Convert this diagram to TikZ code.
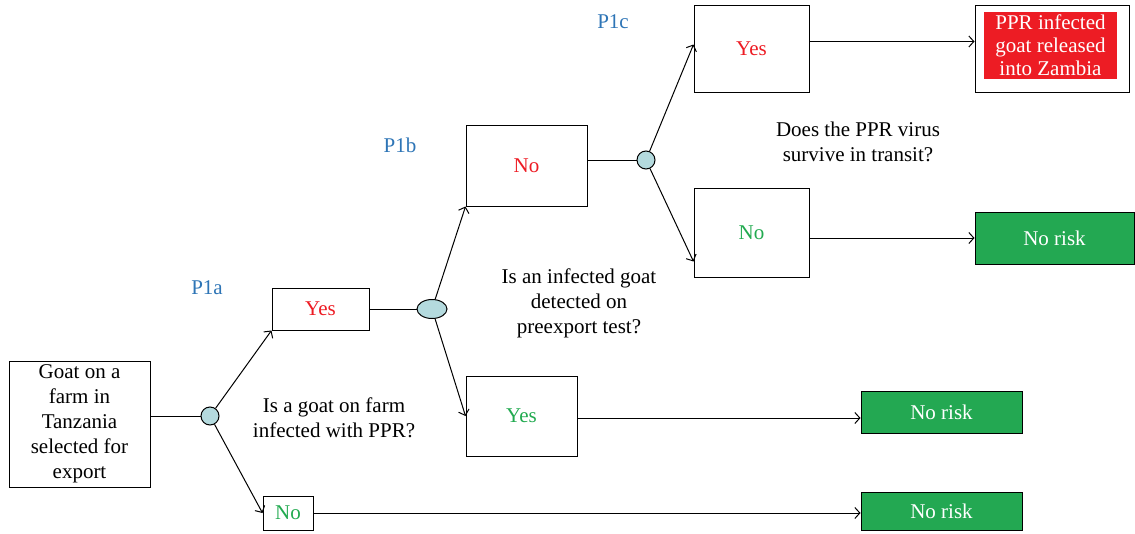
\documentclass[tikz,border=0pt]{standalone}
\usepackage{fontspec}
\setmainfont{Liberation Serif}
\usepackage{tikz}
\usetikzlibrary{arrows,arrows.meta,positioning,shapes.geometric}
\definecolor{riskred}{RGB}{237,28,36}
\definecolor{riskgreen}{RGB}{35,168,82}
\definecolor{notegreen}{RGB}{34,170,80}
\definecolor{pblue}{RGB}{46,117,182}
\definecolor{chancefill}{RGB}{180,218,222}
\tikzstyle{outcome}=[rectangle,draw=black,line width=1pt,inner sep=0pt,align=center]
\tikzstyle{norisk}=[outcome,fill=riskgreen,text=white,minimum width=161pt,minimum height=42pt]
\tikzstyle{chance}=[circle,draw=black,line width=1pt,fill=chancefill,minimum size=18pt,inner sep=0pt]
\tikzstyle{plabel}=[text=pblue]
\tikzstyle{question}=[align=center]

\begin{document}
\begin{tikzpicture}[x=1pt,y=-1pt,->,>={Straight Barb[length=5pt,width=11pt]},line width=1pt,
                    font=\fontsize{21}{25}\selectfont]
  \useasboundingbox (0,0) rectangle (1135,533);

  % root and first chance node
  \node[outcome,minimum width=141pt,minimum height=126pt] (goat) at (79.5,424)
       {Goat on a\\farm in\\Tanzania\\selected for\\export};
  \node[chance] (c1) at (210,416) {};
  \node[outcome,text=riskred,minimum width=97pt,minimum height=42pt] (yes1) at (320.5,309) {Yes};
  \node[outcome,text=notegreen,minimum width=50pt,minimum height=34pt] (no1) at (288,513) {No};
  \node[norisk,minimum height=38pt] (nr1) at (941.5,511) {No risk};

  % second chance node
  \node[ellipse,draw=black,line width=1pt,fill=chancefill,minimum width=30pt,minimum height=19pt,inner sep=0pt] (e2) at (432,309) {};
  \node[outcome,text=riskred,minimum width=121pt,minimum height=81pt] (no2) at (526.5,165.5) {No};
  \node[outcome,text=notegreen,minimum width=111pt,minimum height=80pt] (yes2) at (521.5,416) {Yes};
  \node[norisk] (nr2) at (941.5,412) {No risk};

  % third chance node
  \node[chance] (c3) at (646,160) {};
  \node[outcome,text=riskred,minimum width=115pt,minimum height=87pt] (yes3) at (751.5,48.5) {Yes};
  \node[outcome,text=notegreen,minimum width=115pt,minimum height=89pt] (no3) at (751.5,232.5) {No};
  \node[outcome,minimum width=154pt,minimum height=87pt] (zambia) at (1052,48.5) {};
  \node[rectangle,fill=riskred,text=white,align=center,inner sep=0pt,
        minimum width=133pt,minimum height=67pt,font=\fontsize{21}{23}\selectfont] (zambiatext) at (1050.5,45.5)
       {PPR infected\\goat released\\into Zambia};
  \node[norisk,minimum width=159pt,minimum height=52pt] (nr3) at (1054.5,238) {No risk};

  % labels
  \node[plabel] (p1a) at (207,288) {P1a};
  \node[plabel] (p1b) at (400,145) {P1b};
  \node[plabel] (p1c) at (613,22) {P1c};
  \node[question] (q1) at (334,418) {Is a goat on farm\\infected with PPR?};
  \node[question] (q2) at (579,303) {Is an infected goat\\detected on\\preexport test?};
  \node[question] (q3) at (858,142) {Does the PPR virus\\survive in transit?};

  % connectors
  \draw[-] (goat.east |- c1) -- (c1);
  \draw (c1) -- (yes1.south west);
  \draw (c1) -- (no1.west);
  \draw (no1.east) -- (no1.east -| nr1.west);
  \draw[-] (yes1.east) -- (e2);
  \draw (e2) -- (no2.south west);
  \draw (e2) -- (yes2.west);
  \draw ([yshift=-2pt]yes2.east) -- ([yshift=-2pt]yes2.east -| nr2.west);
  \draw[-] (no2.east |- c3) -- (c3);
  \draw (c3) -- ([yshift=4pt]yes3.west);
  \draw (c3) -- ([yshift=-29pt]no3.west);
  \draw (zambia.west -| yes3.east) ++(0,-7) -- ([yshift=7pt]zambia.west);
  \draw (nr3.west -| no3.east) -- (nr3.west);
\end{tikzpicture}
\end{document}
